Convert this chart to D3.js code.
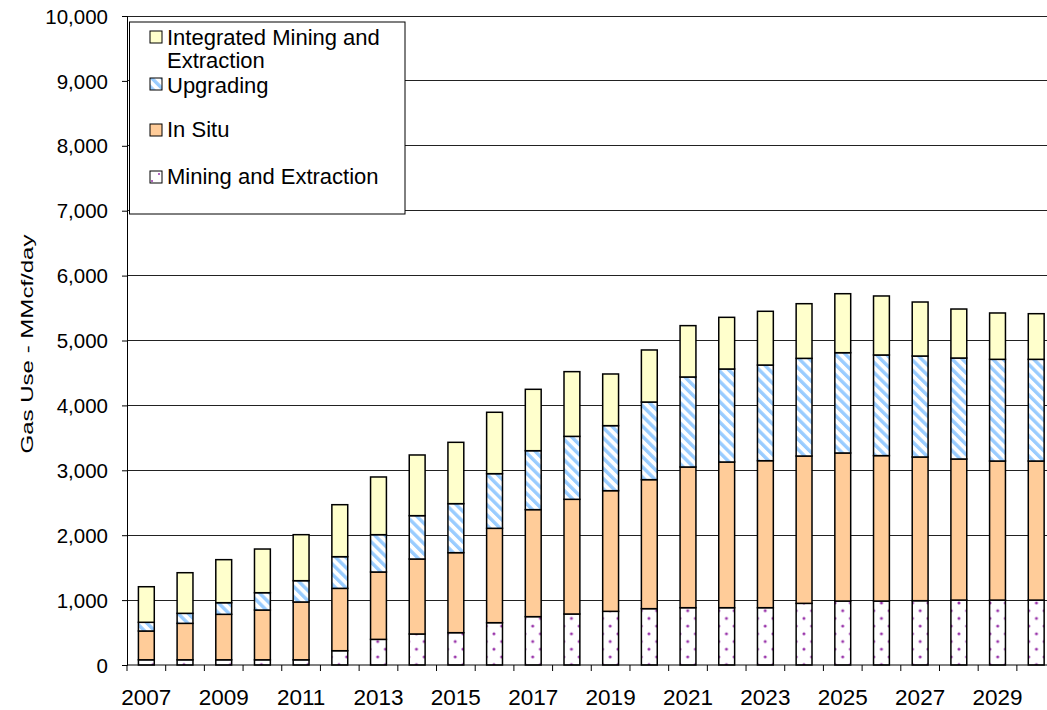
<!DOCTYPE html>
<html>
<head>
<meta charset="utf-8">
<script src="https://cdn.jsdelivr.net/npm/d3@7"></script>
<style>
  html, body { margin: 0; padding: 0; background: #fff; }
  svg { display: block; }
  text { font-family: "Liberation Sans", Arial, sans-serif; fill: #000; }
</style>
</head>
<body>
<svg id="chart" width="1047" height="710"></svg>
<script>
const years = d3.range(2007, 2031).map(String);
const miningExtraction = [80,80,80,80,80,220,395,478,498,652,745,786,827,868,883,883,883,950,986,986,991,1000,1000,1000];
const inSitu = [444,562,701,767,891,961,1038,1155,1233,1454,1649,1767,1859,1988,2168,2245,2265,2270,2281,2240,2214,2174,2143,2143];
const upgrading = [134,154,179,267,328,488,575,668,755,842,908,970,1002,1196,1387,1433,1474,1505,1545,1551,1556,1556,1567,1567];
const integrated = [548,626,663,673,709,801,889,935,945,946,946,997,796,802,791,796,828,842,909,909,832,755,714,703];
const yTicks = [0,1000,2000,3000,4000,5000,6000,7000,8000,9000,10000];
const xLabelYears = ["2007","2009","2011","2013","2015","2017","2019","2021","2023","2025","2027","2029"];
const seriesKeys = ["mining","inSitu","upgrading","integrated"];
const legendLabels = {
  integrated: ["Integrated Mining and", "Extraction"],
  upgrading: ["Upgrading"],
  inSitu: ["In Situ"],
  mining: ["Mining and Extraction"]
};

(function () {
const svg = d3.select("#chart");
const W = 1047, H = 710;
const mLeft = 127, mTop = 16, mBottom = 665;
const step = 38.69;
const mRight = mLeft + step * years.length;
const dotColor = "#9933AA";

const defs = svg.append("defs");
// stripes for upgrading
const sp = defs.append("pattern").attr("id","stripes").attr("patternUnits","userSpaceOnUse")
  .attr("width",7.2).attr("height",7.2).attr("patternTransform","rotate(-45)");
sp.append("rect").attr("width",7.2).attr("height",7.2).attr("fill","#fff");
sp.append("rect").attr("width",3.4).attr("height",7.2).attr("fill","#99CCFF");
// dots for mining
const tw = 15.5, th = 15.4;
const dp = defs.append("pattern").attr("id","dots").attr("patternUnits","userSpaceOnUse")
  .attr("x", 842.7).attr("y", 610.7).attr("width",tw).attr("height",th);
dp.append("rect").attr("width",tw).attr("height",th).attr("fill","#fff");
[[0,0],[tw,0],[0,th],[tw,th],[tw/2,th/2]].forEach(([cx,cy]) =>
  dp.append("circle").attr("cx",cx).attr("cy",cy).attr("r",1.5).attr("fill",dotColor));

const fills = { mining: "url(#dots)", inSitu: "#FFCC99", upgrading: "url(#stripes)", integrated: "#FFFFCC" };

const x = d3.scaleBand().domain(years).range([mLeft, mRight]).paddingInner(0.59).paddingOuter(0.295);
const y = d3.scaleLinear().domain([0, 10000]).range([mBottom, mTop]);

// gridlines
svg.append("g").selectAll("line").data(yTicks.filter(d => d > 0)).join("line")
  .attr("x1", mLeft).attr("x2", W).attr("y1", d => y(d)).attr("y2", d => y(d))
  .attr("stroke", "#222").attr("stroke-width", 1).attr("shape-rendering","crispEdges");

// bars
const table = years.map((yr, i) => ({ year: yr, mining: miningExtraction[i], inSitu: inSitu[i], upgrading: upgrading[i], integrated: integrated[i] }));
const stacked = d3.stack().keys(seriesKeys)(table);
svg.append("g").selectAll("g").data(stacked).join("g")
  .attr("fill", d => fills[d.key])
  .selectAll("rect").data(d => d).join("rect")
  .attr("x", d => x(d.data.year)).attr("width", x.bandwidth())
  .attr("y", d => y(d[1])).attr("height", d => y(d[0]) - y(d[1]))
  .attr("stroke", "#000").attr("stroke-width", 1.5);

// y axis
const yAxis = d3.axisLeft(y).tickValues(yTicks).tickSize(5).tickFormat(d3.format(","));
const ya = svg.append("g").attr("transform", `translate(${mLeft},0)`).call(yAxis);
ya.select(".domain").attr("stroke","#000");
ya.selectAll(".tick line").attr("stroke","#000");
ya.selectAll(".tick text").attr("x", -19).attr("font-size", 20.5).attr("font-family","Liberation Sans, Arial, sans-serif").attr("fill","#000").attr("dy","0.35em");

// x axis
svg.append("line").attr("x1", mLeft).attr("x2", W).attr("y1", mBottom).attr("y2", mBottom)
  .attr("stroke","#000").attr("stroke-width",1);
svg.append("g").selectAll("line").data(d3.range(years.length + 1)).join("line")
  .attr("x1", i => mLeft + i * step).attr("x2", i => mLeft + i * step)
  .attr("y1", mBottom).attr("y2", mBottom + 6).attr("stroke","#000");
svg.append("g").selectAll("text").data(xLabelYears).join("text")
  .attr("x", d => x(d) + x.bandwidth()/2).attr("y", 705)
  .attr("text-anchor","middle").attr("font-size", 22.5).text(d => d);

// y axis title
svg.append("text").attr("transform", "translate(33,344) rotate(-90)")
  .attr("text-anchor","middle").attr("font-size", 17)
  .attr("textLength", 219).attr("lengthAdjust","spacingAndGlyphs")
  .text("Gas Use - MMcf/day");

// legend
const lg = svg.append("g");
lg.append("rect").attr("x", 129.5).attr("y", 22).attr("width", 275.5).attr("height", 192)
  .attr("fill","#fff").attr("stroke","#000").attr("stroke-width",1);
const legendRows = [
  { key: "integrated", sy: 31, base: [44.5, 67.5] },
  { key: "upgrading", sy: 78, base: [92.5] },
  { key: "inSitu", sy: 124, base: [137] },
  { key: "mining", sy: 171, base: [184] }
];
const lgPat = defs.append("pattern").attr("id","legendDots").attr("patternUnits","userSpaceOnUse")
  .attr("x",150).attr("y",171).attr("width",12).attr("height",12);
lgPat.append("rect").attr("width",12).attr("height",12).attr("fill","#fff");
lgPat.append("circle").attr("cx",9).attr("cy",3).attr("r",1).attr("fill",dotColor);
lgPat.append("circle").attr("cx",2).attr("cy",10).attr("r",1).attr("fill",dotColor);
legendRows.forEach(r => {
  lg.append("rect").attr("x", 150).attr("y", r.sy).attr("width", 12).attr("height", 12)
    .attr("fill", r.key === "mining" ? "url(#legendDots)" : fills[r.key])
    .attr("stroke","#000").attr("stroke-width",1);
  legendLabels[r.key].forEach((t, j) => {
    lg.append("text").attr("x", 167).attr("y", r.base[j]).attr("font-size", 22).text(t);
  });
});
})();
</script>
</body>
</html>
